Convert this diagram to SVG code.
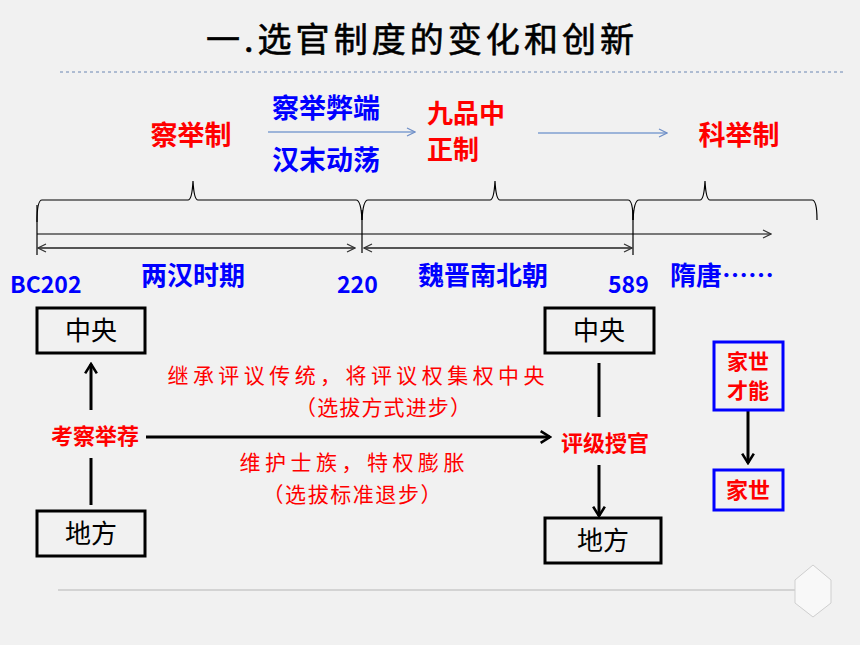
<svg xmlns="http://www.w3.org/2000/svg" width="860" height="645" viewBox="0 0 860 645">
<defs>
<style>
.cjk{font-family:"Noto Sans CJK SC","Noto Sans",sans-serif;}
.b{font-weight:bold;}
.red{fill:#ff0000;}
.blue{fill:#0000ff;}
.blk{fill:#000;}
.box{fill:none;stroke:#000;stroke-width:3;}
.bbox{fill:none;stroke:#0000ff;stroke-width:3;}
.thin{fill:none;stroke:#000;stroke-width:1.2;}
.thick{fill:none;stroke:#000;stroke-width:3;}
</style>
<marker id="open" viewBox="0 0 10 10" refX="9" refY="5" markerWidth="10" markerHeight="10" markerUnits="userSpaceOnUse" orient="auto-start-reverse">
<path d="M1,1 L9,5 L1,9" fill="none" stroke="#333" stroke-width="1.2"/>
</marker>
<marker id="openblue" viewBox="0 0 10 10" refX="9" refY="5" markerWidth="10" markerHeight="10" markerUnits="userSpaceOnUse" orient="auto">
<path d="M1,1 L9,5 L1,9" fill="none" stroke="#6f8fc7" stroke-width="1.2"/>
</marker>
<marker id="big" viewBox="0 0 12 12" refX="10" refY="6" markerWidth="14" markerHeight="14" markerUnits="userSpaceOnUse" orient="auto">
<path d="M2,1 L10,6 L2,11" fill="none" stroke="#000" stroke-width="2.2"/>
</marker>
</defs>
<rect x="0" y="0" width="860" height="645" fill="#f1f1f1"/>

<text x="420" y="52" text-anchor="middle" class="cjk blk" font-size="34" textLength="428" stroke="#000" stroke-width="0.6">一.选官制度的变化和创新</text>
<line x1="60" y1="72" x2="845" y2="72" stroke="#6b86b3" stroke-width="1" stroke-dasharray="3,3"/>

<g id="title-texts">
<text x="191" y="145" text-anchor="middle" class="cjk b red" font-size="27">察举制</text>
<text x="326" y="118" text-anchor="middle" class="cjk b blue" font-size="27">察举弊端</text>
<text x="326" y="170" text-anchor="middle" class="cjk b blue" font-size="27">汉末动荡</text>
<text x="427" y="123" class="cjk b red" font-size="26">九品中</text>
<text x="427" y="159" class="cjk b red" font-size="26">正制</text>
<text x="739" y="145" text-anchor="middle" class="cjk b red" font-size="27">科举制</text>
</g>

<g id="connectors">
<line x1="268" y1="132" x2="415" y2="132" stroke="#7f9fd0" stroke-width="1.3" marker-end="url(#openblue)"/>
<line x1="538" y1="133" x2="667" y2="133" stroke="#7f9fd0" stroke-width="1.3" marker-end="url(#openblue)"/>
<path class="thin" d="M37,222 Q37,200 42,200 L188,200 Q192,200 193,181 Q194,200 198,200 L356,200 Q361,200 362,220"/>
<path class="thin" d="M362,220 Q363,200 368,200 L490,200 Q494,200 495,181 Q496,200 500,200 L628,200 Q633,200 633,220"/>
<path class="thin" d="M633,220 Q634,200 639,200 L700,200 Q704,200 705,181 Q706,200 710,200 L812,200 Q817,200 817,220"/>
<line class="thin" x1="37" y1="205" x2="37" y2="255"/>
<line class="thin" x1="362" y1="210" x2="362" y2="253"/>
<line class="thin" x1="633" y1="210" x2="633" y2="255"/>
<line class="thin" x1="37" y1="234" x2="771" y2="234" marker-end="url(#open)"/>
<line x1="38" y1="248" x2="355" y2="248" stroke="#555" stroke-width="1.8" marker-start="url(#open)" marker-end="url(#open)"/>
<line x1="364" y1="248" x2="632" y2="248" stroke="#555" stroke-width="1.8" marker-start="url(#open)" marker-end="url(#open)"/>
<line class="thick" x1="91" y1="410" x2="91" y2="364" marker-end="url(#big)"/>
<line class="thick" x1="91" y1="458" x2="91" y2="505"/>
<line class="thick" x1="146" y1="437" x2="550" y2="437" marker-end="url(#big)"/>
<line class="thick" x1="599" y1="363" x2="599" y2="417"/>
<line class="thick" x1="599" y1="465" x2="599" y2="516" marker-end="url(#big)"/>
<line class="thick" x1="748" y1="410" x2="748" y2="463" marker-end="url(#big)"/>
</g>

<g id="timeline-labels">
<text x="10" y="293" class="cjk b blue" font-size="23">BC202</text>
<text x="193" y="285" text-anchor="middle" class="cjk b blue" font-size="26">两汉时期</text>
<text x="337" y="293" class="cjk b blue" font-size="23">220</text>
<text x="483" y="285" text-anchor="middle" class="cjk b blue" font-size="26">魏晋南北朝</text>
<text x="608" y="293" class="cjk b blue" font-size="23">589</text>
<text x="670" y="285" class="cjk b blue" font-size="26">隋唐……</text>
</g>

<g id="node-zhongyang-left">
<rect class="box" x="37" y="308" width="108" height="45"/>
<text x="91" y="340" text-anchor="middle" class="cjk blk" font-size="26">中央</text>
</g>
<g id="node-difang-left">
<rect class="box" x="37" y="511" width="108" height="45"/>
<text x="91" y="543" text-anchor="middle" class="cjk blk" font-size="26">地方</text>
</g>
<g id="node-kaocha">
<text x="95" y="444" text-anchor="middle" class="cjk b red" font-size="22">考察举荐</text>
</g>
<g id="node-zhongyang-right">
<rect class="box" x="545" y="308" width="109" height="45"/>
<text x="599" y="340" text-anchor="middle" class="cjk blk" font-size="26">中央</text>
</g>
<g id="node-pingji">
<text x="605" y="451" text-anchor="middle" class="cjk b red" font-size="22">评级授官</text>
</g>
<g id="node-difang-right">
<rect class="box" x="545" y="518" width="116" height="45"/>
<text x="603" y="550" text-anchor="middle" class="cjk blk" font-size="26">地方</text>
</g>
<g id="node-jiashi-caineng">
<rect class="bbox" x="714" y="342" width="69" height="68"/>
<text x="748" y="369" text-anchor="middle" class="cjk b red" font-size="21">家世</text>
<text x="748" y="398" text-anchor="middle" class="cjk b red" font-size="21">才能</text>
</g>
<g id="node-jiashi">
<rect class="bbox" x="714" y="470" width="69" height="40"/>
<text x="748" y="498" text-anchor="middle" class="cjk b red" font-size="22">家世</text>
</g>

<g id="notes">
<text x="356" y="383" text-anchor="middle" class="cjk red" font-size="21" textLength="377">继承评议传统，将评议权集权中央</text>
<text x="383" y="415" text-anchor="middle" class="cjk red" font-size="21" textLength="176">（选拔方式进步）</text>
<text x="352" y="470" text-anchor="middle" class="cjk red" font-size="21" textLength="225">维护士族，特权膨胀</text>
<text x="352" y="502" text-anchor="middle" class="cjk red" font-size="21" textLength="179">（选拔标准退步）</text>
</g>

<line x1="58" y1="590" x2="800" y2="590" stroke="#c8c8c8" stroke-width="1.5"/>
<polygon points="813,565 831,580 831,603 813,617 795,603 795,580" fill="#f8f8f8" stroke="#cfcfcf" stroke-width="1"/>
</svg>
